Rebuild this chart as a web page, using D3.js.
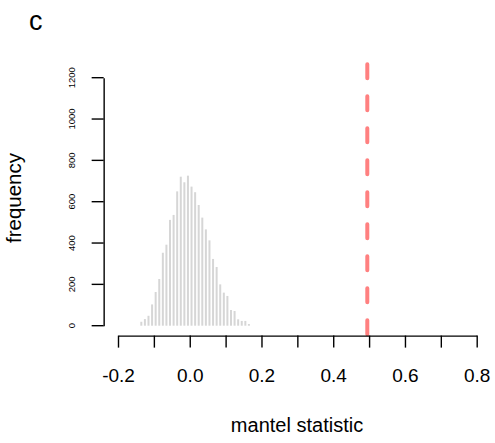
<html>
<head>
<meta charset="utf-8">
<style>
  body { margin: 0; background: #fff; }
  text { font-family: "Liberation Sans", Arial, sans-serif; }
</style>
</head>
<body>
<svg id="chart" width="495" height="443"></svg>
<script src="https://cdn.jsdelivr.net/npm/d3@7"></script>
<script>
// bin midpoints of the permutation histogram
let binMids = [-0.135, -0.125, -0.115, -0.105, -0.095, -0.085, -0.075, -0.065, -0.055, -0.045,
               -0.035, -0.025, -0.015, -0.005, 0.005, 0.015, 0.025, 0.035, 0.045, 0.055,
               0.065, 0.075, 0.085, 0.095, 0.105, 0.115, 0.125, 0.135, 0.145, 0.155, 0.165]
let counts = [19, 32, 48, 103, 163, 226, 353, 392, 512, 536,
              650, 721, 694, 726, 673, 646, 584, 523, 466, 413,
              323, 284, 200, 160, 144, 76, 71, 31, 23, 23, 8]
let observed = 0.495
let xTicks = [-0.2, -0.1, 0, 0.1, 0.2, 0.3, 0.4, 0.5, 0.6, 0.7, 0.8]
let xLabels = ["-0.2", "0.0", "0.2", "0.4", "0.6", "0.8"]
let yTicks = [0, 200, 400, 600, 800, 1000, 1200]

let svg = d3.select("#chart")

let x = d3.scaleLinear().domain([-0.2, 0.8]).range([118, 476.7])
let y = d3.scaleLinear().domain([0, 1200]).range([325.7, 77.7])

// histogram drawn as vertical lines
svg.append("g").selectAll("line")
    .data(binMids)
    .enter()
    .append("line")
    .attr("x1", d => x(d))
    .attr("x2", d => x(d))
    .attr("y1", y(0))
    .attr("y2", (d, i) => y(counts[i]))
    .attr("stroke", "#d6d6d6")
    .attr("stroke-width", 2)

// observed statistic
svg.append("line")
    .attr("x1", x(observed))
    .attr("x2", x(observed))
    .attr("y1", y(1265))
    .attr("y2", y(-48))
    .attr("stroke", "#ff8080")
    .attr("stroke-width", 4)
    .attr("stroke-linecap", "round")
    .attr("stroke-dasharray", "14,18")

// x axis, labels on every other tick
let xAxis = d3.axisBottom(x)
    .tickValues(xTicks)
    .tickSize(12)
    .tickSizeOuter(0)
    .tickFormat(d => {
        let s = d.toFixed(1)
        return xLabels.indexOf(s) >= 0 ? s : ""
    })

let gx = svg.append("g")
    .attr("transform", "translate(0," + y(-48) + ")")
    .call(xAxis)
gx.selectAll("text")
    .attr("y", 46)
    .attr("dy", 0)
    .attr("font-size", 19)
    .attr("fill", "#000")
    .attr("font-family", "Liberation Sans, Arial, sans-serif")

// y axis
let yAxis = d3.axisLeft(y)
    .tickValues(yTicks)
    .tickSize(12)
    .tickSizeOuter(0)
    .tickFormat(d => String(d))

let gy = svg.append("g")
    .attr("transform", "translate(" + x(-0.24) + ",0)")
    .call(yAxis)
gy.selectAll("text")
    .attr("x", null)
    .attr("dy", null)
    .attr("text-anchor", "middle")
    .attr("transform", d => "translate(-29," + y(d) + ") rotate(-90)")
    .attr("y", 0)
    .attr("font-size", 9.5)
    .attr("fill", "#000")
    .attr("font-family", "Liberation Sans, Arial, sans-serif")
gy.selectAll(".tick").attr("transform", null)
gy.selectAll(".tick line").attr("y1", d => y(d)).attr("y2", d => y(d))

svg.selectAll(".domain, .tick line").attr("stroke", "#000").attr("stroke-width", 1.4)

// titles
svg.append("text")
    .attr("x", 297)
    .attr("y", 432)
    .attr("text-anchor", "middle")
    .attr("font-size", 20)
    .text("mantel statistic")

svg.append("text")
    .attr("transform", "translate(21,198) rotate(-90)")
    .attr("text-anchor", "middle")
    .attr("font-size", 20.5)
    .text("frequency")

svg.append("text")
    .attr("x", 29)
    .attr("y", 30)
    .attr("font-size", 27)
    .text("c")
</script>
</body>
</html>
